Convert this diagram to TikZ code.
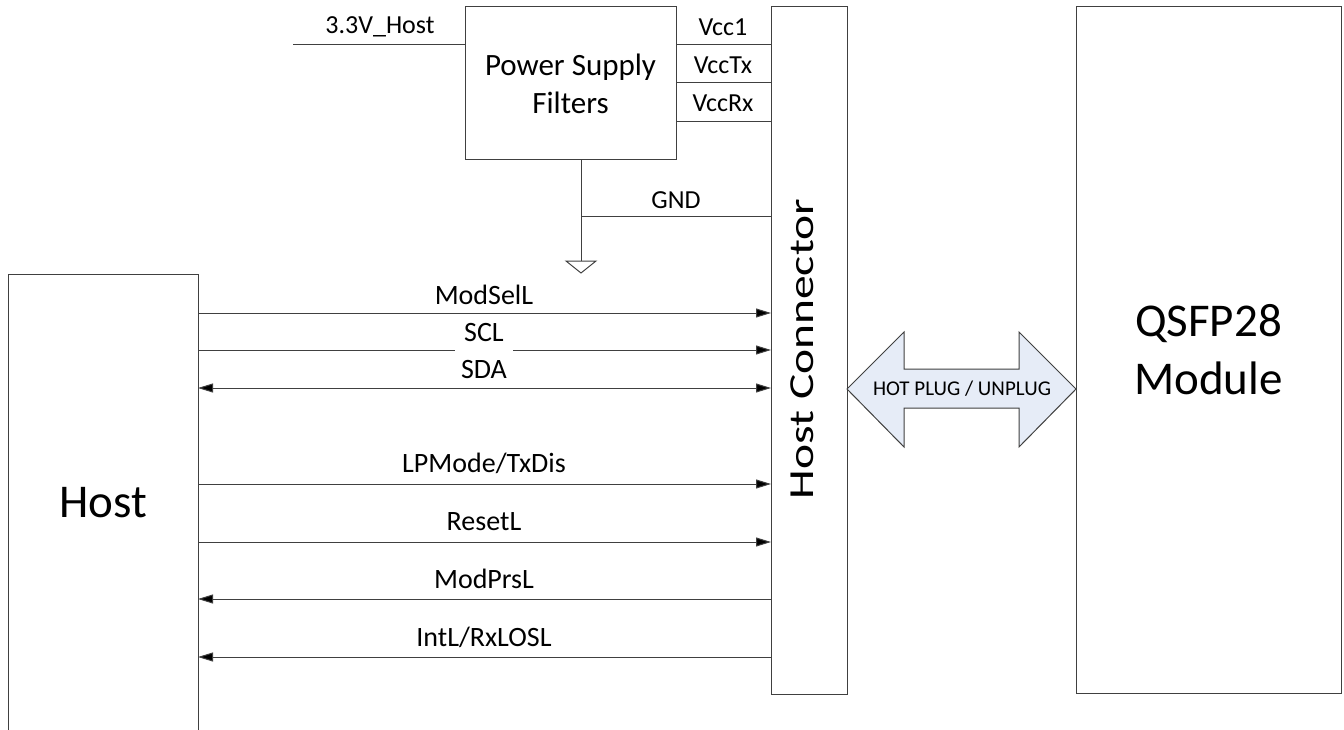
\documentclass[tikz,border=0pt]{standalone}
\usepackage{fontspec}
\setmainfont{Carlito}
\usetikzlibrary{arrows.meta,calc}
\definecolor{ln}{HTML}{404040}
\definecolor{arrfill}{HTML}{E6ECF7}
\begin{document}
\begin{tikzpicture}[x=1pt,y=-1pt,
  box/.style={draw=ln, line width=1pt, rectangle, inner sep=0pt, outer sep=0pt, anchor=north west},
  sig/.style={draw=ln, line width=1pt},
  tip/.style={-{Triangle[length=15pt,width=9pt,fill=black]}},
  tipb/.style={{Triangle[length=15pt,width=9pt,fill=black]}-{Triangle[length=15pt,width=9pt,fill=black]}},
  tipl/.style={{Triangle[length=15pt,width=9pt,fill=black]}-},
  lbl/.style={font=\fontsize{28}{33}\selectfont, inner sep=0pt},
  small/.style={font=\fontsize{26}{31}\selectfont, inner sep=0pt},
]
\clip (0,0) rectangle (1344,730);
\fill[white] (0,0) rectangle (1344,730);

% blocks
\node[box, minimum width=190pt, minimum height=458pt, font=\fontsize{47}{56}\selectfont] (host) at (8,274) {Host};
\node[box, minimum width=211pt, minimum height=153pt, align=center, font=\fontsize{31}{38}\selectfont] (psf) at (465,7) {Power Supply\\Filters};
\node[box, minimum width=76pt, minimum height=687pt] (conn) at (771,7) {};
\node[font=\fontsize{47.5}{56}\selectfont, inner sep=0pt] (connlbl) at (802,349) {\rotatebox{90}{\scalebox{1}[0.74]{Host Connector}}};
\node[box, minimum width=265pt, minimum height=686pt, align=center, font=\fontsize{47}{58}\selectfont] (qsfp) at (1076,7) {QSFP28\\Module};

% power input
\coordinate (pin) at (293,45);
\draw[sig] (pin) -- (psf.west |- pin);
\node[small] (l33) at (380,27) {3.3V\_Host};

% supply rails
\coordinate (v1) at (0,45);
\coordinate (v2) at (0,83);
\coordinate (v3) at (0,122);
\draw[sig] (psf.east |- v1) -- (conn.west |- v1);
\draw[sig] (psf.east |- v2) -- (conn.west |- v2);
\draw[sig] (psf.east |- v3) -- (conn.west |- v3);
\node[small] (lv1) at (723,27) {Vcc1};
\node[small] (lv2) at (723,65) {VccTx};
\node[small] (lv3) at (723,103) {VccRx};

% ground
\coordinate (gnd) at (581,261);
\coordinate (gj) at (581,217);
\draw[sig] (psf.south -| gnd) -- (gnd);
\draw[sig] (gj) -- (conn.west |- gj);
\draw[sig, line join=miter] (gnd) ++(-15,0) -- ++(30,0) -- ++(-15,12) -- cycle;
\node[small] (lgnd) at (676,200) {GND};

% signals
\coordinate (s1) at (0,313);
\coordinate (s2) at (0,350);
\coordinate (s3) at (0,388);
\coordinate (s4) at (0,484);
\coordinate (s5) at (0,542);
\coordinate (s6) at (0,599);
\coordinate (s7) at (0,657);
\draw[sig, tip] (host.east |- s1) -- (conn.west |- s1);
\draw[sig, tip] (host.east |- s2) -- (conn.west |- s2);
\node[lbl, fill=white, inner xsep=6pt, inner ysep=14pt] (lsda) at (484,370) {SDA};
\draw[sig, tipb] (host.east |- s3) -- (conn.west |- s3);
\draw[sig, tip] (host.east |- s4) -- (conn.west |- s4);
\draw[sig, tip] (host.east |- s5) -- (conn.west |- s5);
\draw[sig, tipl] (host.east |- s6) -- (conn.west |- s6);
\draw[sig, tipl] (host.east |- s7) -- (conn.west |- s7);

\node[lbl] (lmod) at (484,295) {ModSelL};
\node[lbl] (lscl) at (484,333) {SCL};
\node[lbl] (llp) at (484,463) {LPMode/TxDis};
\node[lbl] (lrst) at (484,522) {ResetL};
\node[lbl] (lprs) at (484,579) {ModPrsL};
\node[lbl] (lint) at (484,637) {IntL/RxLOSL};

% hot plug double arrow
\draw[draw=ln, line width=1pt, fill=arrfill, line join=miter]
  (conn.east |- 0,389) -- (904,332) -- (904,369) -- (1019,369) -- (1019,332)
  -- (qsfp.west |- 0,389) -- (1019,447) -- (1019,408) -- (904,408) -- (904,447) -- cycle;
\node[font=\fontsize{21}{25}\selectfont, inner sep=0pt] (lhot) at (962,389) {HOT PLUG / UNPLUG};
\end{tikzpicture}
\end{document}
